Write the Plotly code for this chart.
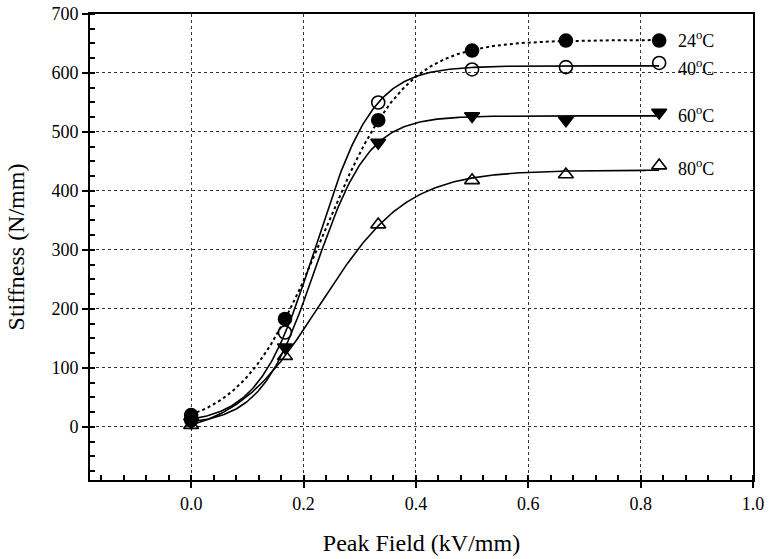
import numpy as np
import plotly.graph_objects as go

# ---- data ----
peak_field = [0.0, 0.167, 0.333, 0.5, 0.667, 0.833]
series_names = ["24<sup>o</sup>C", "40<sup>o</sup>C", "60<sup>o</sup>C", "80<sup>o</sup>C"]
stiff_24 = [20, 183, 520, 638, 655, 655]
stiff_40 = [12, 160, 550, 606, 610, 617]
stiff_60 = [8, 135, 482, 527, 520, 533]
stiff_80 = [3, 120, 343, 418, 428, 443]
label_y = [657, 610, 530, 439]

x_ticks = [0.0, 0.2, 0.4, 0.6, 0.8, 1.0]


def boltzmann_fit(x, y):
    """Least-squares Boltzmann sigmoid fit (grid over x0, dx; linear in A1, A2)."""
    x = np.asarray(x, float)
    y = np.asarray(y, float)
    best = None
    for x0 in np.linspace(0.05, 0.5, 181):
        for dx in np.linspace(0.01, 0.2, 191):
            s = 1.0 / (1.0 + np.exp((x - x0) / dx))
            A = np.column_stack([s, 1 - s])
            coef, *_ = np.linalg.lstsq(A, y, rcond=None)
            r = np.sum((A @ coef - y) ** 2)
            if best is None or r < best[0]:
                best = (r, x0, dx, coef)
    _, x0, dx, coef = best

    def f(xx):
        s = 1.0 / (1.0 + np.exp((xx - x0) / dx))
        return coef[0] * s + coef[1] * (1 - s)
    return f


series = [stiff_24, stiff_40, stiff_60, stiff_80]
symbols = ["circle", "circle-open", "triangle-down", "triangle-up-open"]
dashes = ["dot", "solid", "solid", "solid"]

FONT = "Liberation Serif, Times New Roman, serif"

fig = go.Figure()
xs = np.linspace(min(peak_field), max(peak_field), 300)
for vals, sym, dash in zip(series, symbols, dashes):
    f = boltzmann_fit(peak_field, vals)
    fig.add_trace(go.Scatter(x=xs, y=f(xs), mode="lines",
                             line=dict(color="black", width=2 if dash == "dot" else 1.6, dash=dash),
                             showlegend=False, hoverinfo="skip"))
    fig.add_trace(go.Scatter(x=peak_field, y=vals, mode="markers",
                             marker=dict(symbol=sym, size=13, color="black",
                                         line=dict(color="black", width=1.6)),
                             showlegend=False))

for name, ly in zip(series_names, label_y):
    fig.add_annotation(x=peak_field[-1], y=ly, text=name, showarrow=False,
                       xanchor="left", yanchor="middle", xshift=17,
                       font=dict(family=FONT, size=18, color="black"))

fig.update_layout(
    width=771, height=559,
    margin=dict(l=90, r=18, t=14, b=79, autoexpand=False),
    plot_bgcolor="white", paper_bgcolor="white",
    font=dict(family=FONT, size=18, color="black"),
)
fig.update_xaxes(
    range=[-0.18, 1.0], tickvals=x_ticks, ticktext=[f"{v:.1f}" for v in x_ticks],
    ticks="outside", ticklen=6, tickwidth=2, tickcolor="black",
    minor=dict(dtick=0.04, tick0=0, ticks="inside", ticklen=5, tickwidth=1.5, tickcolor="black", showgrid=False),
    showline=True, linecolor="black", linewidth=2, mirror=True,
    showgrid=True, gridcolor="#333333", griddash="dot", gridwidth=1,
    zeroline=False, automargin=False,
    title=dict(text="Peak Field (kV/mm)", font=dict(family=FONT, size=24), standoff=22),
    tickfont=dict(family=FONT, size=18),
)
fig.update_yaxes(
    range=[-90, 700], tick0=0, dtick=100,
    ticks="outside", ticklen=6, tickwidth=2, tickcolor="black",
    minor=dict(dtick=25, tick0=0, ticks="inside", ticklen=5, tickwidth=1.5, tickcolor="black", showgrid=False),
    showline=True, linecolor="black", linewidth=2, mirror=True,
    showgrid=True, gridcolor="#333333", griddash="dot", gridwidth=1,
    zeroline=False, automargin=False,
    title=dict(text="Stiffness (N/mm)", font=dict(family=FONT, size=24), standoff=20),
    tickfont=dict(family=FONT, size=18),
)

fig.write_html("out.html",
               config={"displayModeBar": False},
               post_script="document.body.style.margin='0px';document.body.style.overflow='hidden';")
